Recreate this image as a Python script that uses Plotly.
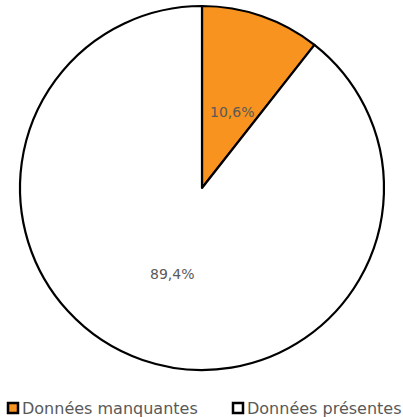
import math
import plotly.graph_objects as go

# Share of records with missing vs. present data
categories = ["Données manquantes", "Données présentes"]
values = [10.6, 89.4]
colors = ["#F7931E", "#FFFFFF"]

W, H = 403, 417
# Pie geometry in pixels (centre and radius)
CX, CY, R = 202, 188, 182
TEXT_COLOR = "#595959"
FONT = "DejaVu Sans"

fig = go.Figure(
    go.Pie(
        labels=categories,
        values=values,
        sort=False,
        direction="clockwise",
        rotation=0,
        marker=dict(colors=colors, line=dict(color="#000000", width=2.2)),
        textinfo="none",
        hoverinfo="label+percent",
        showlegend=False,
        domain=dict(
            x=[(CX - R) / W, (CX + R) / W],
            y=[(H - (CY + R)) / H, (H - (CY - R)) / H],
        ),
    )
)

# Percentage labels placed halfway out along each slice's mid-angle
total = sum(values)
annotations = []
start = 0.0
for v in values:
    frac = v / total
    mid = (start + frac / 2) * 2 * math.pi
    px = CX + 0.5 * R * math.sin(mid)
    py = CY - 0.5 * R * math.cos(mid)
    annotations.append(
        dict(
            x=px / W, y=1 - py / H, xref="paper", yref="paper",
            text=f"{frac * 100:.1f}%".replace(".", ","),
            showarrow=False,
            font=dict(family=FONT, size=14, color=TEXT_COLOR),
        )
    )
    start += frac

# Legend row at the bottom
legend_x = [7, 232]
legend_y = 408
shapes = []
for lx, name, col in zip(legend_x, categories, colors):
    shapes.append(
        dict(
            type="rect", xref="paper", yref="paper",
            x0=(lx + 1) / W, x1=(lx + 11) / W,
            y0=1 - (legend_y + 5) / H, y1=1 - (legend_y - 5) / H,
            fillcolor=col, line=dict(color="#000000", width=2.5),
        )
    )
    annotations.append(
        dict(
            x=(lx + 13) / W, y=1 - legend_y / H, xref="paper", yref="paper",
            xanchor="left", yanchor="middle",
            text=name, showarrow=False,
            font=dict(family=FONT, size=16, color=TEXT_COLOR),
        )
    )

fig.update_layout(
    width=W, height=H,
    margin=dict(l=0, r=0, t=0, b=0),
    paper_bgcolor="#FFFFFF",
    plot_bgcolor="#FFFFFF",
    annotations=annotations,
    shapes=shapes,
)

fig.write_html("out.html")
